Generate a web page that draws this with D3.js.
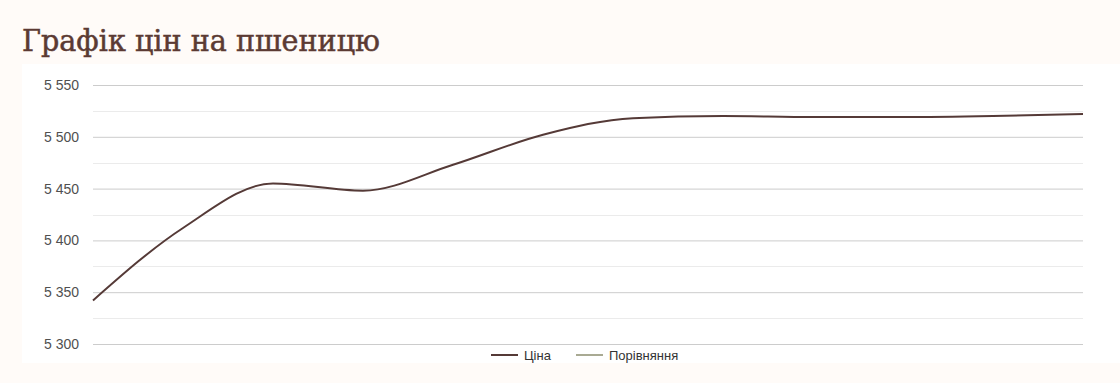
<!DOCTYPE html>
<html>
<head>
<meta charset="utf-8">
<script src="https://cdn.jsdelivr.net/npm/d3@7"></script>
<style>
  body { margin: 0; background: #fffbf8; }
  svg { display: block; }
</style>
</head>
<body>
<svg id="chart" width="1120" height="383"></svg>
<script>

// data (no x labels shown in the original)
var periods = [1, 2, 3, 4, 5, 6, 7, 8, 9, 10, 11, 12];
var priceValues = [5342, 5412, 5455, 5448, 5473, 5502, 5518, 5520, 5519, 5519, 5520, 5522];
var yTicks = [5300, 5350, 5400, 5450, 5500, 5550];
var legendNames = ["Ціна", "Порівняння"];
var legendColors = ["#553a37", "#a9aa93"];

var svg = d3.select("#chart");
svg.margin = {left: 93, right: 37, top: 85, bottom: 39};
svg.width = 1120 - svg.margin.left - svg.margin.right;
svg.height = 383 - svg.margin.top - svg.margin.bottom;

// title
svg.append("text")
  .attr("x", 22).attr("y", 51)
  .attr("font-family", "'DejaVu Serif', serif")
  .attr("font-size", 29)
  .attr("fill", "#5b3a33")
  .attr("stroke", "#5b3a33")
  .attr("stroke-width", 0.5)
  .attr("textLength", 358)
  .attr("lengthAdjust", "spacingAndGlyphs")
  .text("Графік цін на пшеницю");

// white panel
svg.append("rect")
  .attr("x", 22).attr("y", 64).attr("width", 1098).attr("height", 299)
  .attr("fill", "#ffffff");

svg.x = d3.scalePoint().domain(periods).range([0, svg.width]);
svg.y = d3.scaleLinear().domain([5300, 5550]).range([svg.height, 0]);

var g = svg.append("g").attr("transform", "translate(" + [svg.margin.left, svg.margin.top] + ")");

//minor grid (halfway between ticks)
var minor = yTicks.slice(1).map(function(t){ return t - 25; });
g.append("g").selectAll("line").data(minor).enter().append("line")
  .attr("x1", 0).attr("x2", svg.width)
  .attr("y1", function(d){ return Math.round(svg.y(d)) + 0.5; })
  .attr("y2", function(d){ return Math.round(svg.y(d)) + 0.5; })
  .attr("stroke", "#ebebeb");

var fmt = function(d){ return d3.format(",")(d).replace(/,/g, " "); };

var axis = g.append("g")
  .call(d3.axisLeft(svg.y).tickValues(yTicks).tickSize(-svg.width).tickPadding(14).tickFormat(fmt));
axis.select(".domain").remove();
axis.selectAll(".tick line").attr("stroke", "#cccccc");
axis.selectAll(".tick text")
  .attr("font-family", "'Liberation Sans', Arial, sans-serif")
  .attr("font-size", 14)
  .attr("fill", "#505050");

var valueline = d3.line().curve(d3.curveMonotoneX)
  .x(function(d, i){ return svg.x(periods[i]); })
  .y(function(d){ return svg.y(d); });

g.append("path")
  .datum(priceValues)
  .attr("d", valueline)
  .attr("fill", "none")
  .attr("stroke", legendColors[0])
  .attr("stroke-width", 2);

// legend
var legend = svg.append("g").attr("transform", "translate(491,355)");
var offsets = [0, 85];
legendNames.forEach(function(name, i){
  var item = legend.append("g").attr("transform", "translate(" + offsets[i] + ",0)");
  item.append("line").attr("x1", 0).attr("x2", 27).attr("y1", 0).attr("y2", 0)
    .attr("stroke", legendColors[i]).attr("stroke-width", 2);
  item.append("text").attr("x", 33).attr("y", 4.5)
    .attr("font-family", "'Liberation Sans', Arial, sans-serif")
    .attr("font-size", 13)
    .attr("fill", "#333")
    .text(name);
});

</script>
</body>
</html>
